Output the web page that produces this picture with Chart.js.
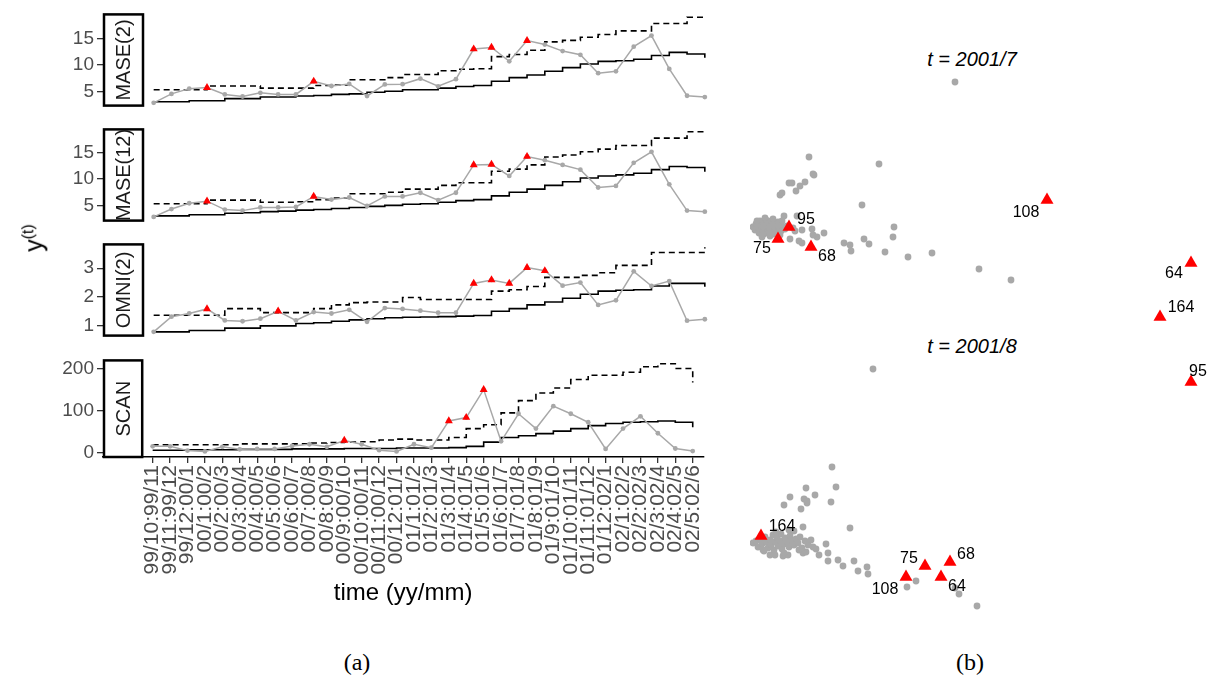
<!DOCTYPE html>
<html>
<head>
<meta charset="utf-8">
<script src="https://cdn.jsdelivr.net/npm/chart.js@4.4.1/dist/chart.umd.min.js"></script>
<style>
  body { margin:0; background:#fff; width:1221px; height:683px; position:relative; overflow:hidden;
         font-family:"Liberation Sans", Arial, sans-serif; }
  .box { position:absolute; }
  #ylab { position:absolute; left:34px; top:238px; transform:translate(-50%,-50%) rotate(-90deg);
          font-size:25px; white-space:nowrap; color:#000; }
  #ylab sup { font-size:16px; }
  .cap { position:absolute; top:662px; transform:translate(-50%,-50%);
         font-family:"Liberation Serif","DejaVu Serif",serif; font-size:24px; }
  .ttl { position:absolute; transform:translate(-50%,-50%); font-style:italic; font-size:20px; white-space:nowrap; }
</style>
</head>
<body>
<div class="box" style="left:0;top:0;width:720px;height:120px"><canvas id="p1"></canvas></div>
<div class="box" style="left:0;top:115px;width:720px;height:120px"><canvas id="p2"></canvas></div>
<div class="box" style="left:0;top:230px;width:720px;height:120px"><canvas id="p3"></canvas></div>
<div class="box" style="left:0;top:346px;width:720px;height:266px"><canvas id="p4"></canvas></div>
<div id="ylab">y<sup>(t)</sup></div>

<div class="ttl" style="left:972px;top:59px">t = 2001/7</div>
<div class="ttl" style="left:972px;top:346px">t = 2001/8</div>
<div class="box" style="left:750px;top:70px;width:470px;height:260px"><canvas id="s1"></canvas></div>
<div class="box" style="left:750px;top:355px;width:470px;height:265px"><canvas id="s2"></canvas></div>

<div class="cap" style="left:357px">(a)</div>
<div class="cap" style="left:970px">(b)</div>

<script>
// ---- data: panel (a) ----
const timeLabels = ['99/10:99/11','99/11:99/12','99/12:00/1','00/1:00/2','00/2:00/3','00/3:00/4',
  '00/4:00/5','00/5:00/6','00/6:00/7','00/7:00/8','00/8:00/9','00/9:00/10','00/10:00/11',
  '00/11:00/12','00/12:01/1','01/1:01/2','01/2:01/3','01/3:01/4','01/4:01/5','01/5:01/6',
  '01/6:01/7','01/7:01/8','01/8:01/9','01/9:01/10','01/10:01/11','01/11:01/12','01/12:02/1',
  '02/1:02/2','02/2:02/3','02/3:02/4','02/4:02/5','02/5:02/6'];

const mase2Obs   = [2.8,4.5,5.5,5.7,4.4,4.0,4.7,4.4,4.4,6.9,6.0,6.4,4.1,6.3,6.35,7.4,5.95,7.3,13.05,13.35,10.7,14.65,13.9,12.65,11.95,8.45,8.8,13.5,15.6,9.25,4.15,3.9];
const mase2Base  = [3.0,3.0,3.2,3.2,3.6,3.6,3.9,3.9,4.1,4.2,4.4,4.5,4.8,5.0,5.3,5.3,5.6,5.9,6.1,6.9,7.6,8.1,8.8,9.5,10.2,10.7,10.8,11.1,11.8,12.4,12.1,11.4];
const mase2Upper = [5.3,5.3,5.3,6.0,6.0,6.0,5.6,5.6,5.6,6.1,6.2,7.2,7.2,7.6,8.2,8.2,8.9,9.2,9.3,11.6,12.0,12.8,14.4,14.7,15.3,15.8,16.5,16.5,17.9,17.9,19.1,19.1];
const mase2Alarm = [3,9,18,19,21];

const mase12Obs   = [2.8,4.3,5.4,5.8,4.2,4.0,4.6,4.6,4.7,6.7,6.1,6.5,4.9,6.7,6.7,7.4,6.0,7.4,12.7,12.8,10.6,14.3,13.6,12.7,11.8,8.4,8.7,13.1,15.2,9.0,4.0,3.8];
const mase12Base  = [3.0,3.0,3.2,3.2,3.5,3.6,3.8,3.9,4.1,4.2,4.4,4.6,4.8,5.0,5.2,5.3,5.6,5.9,6.1,6.8,7.5,8.1,8.8,9.5,10.2,10.6,10.8,11.1,11.8,12.4,12.2,11.4];
const mase12Upper = [5.3,5.3,5.3,6.0,6.0,6.0,5.6,5.6,5.7,6.1,6.4,7.2,7.2,7.5,8.1,8.1,8.8,9.3,9.3,11.5,11.9,12.7,14.2,14.6,15.2,15.7,16.4,16.4,17.8,17.8,19.0,19.1];
const mase12Alarm = [3,9,18,19,21];

const omniObs   = [0.78,1.31,1.42,1.58,1.18,1.15,1.24,1.50,1.18,1.47,1.42,1.55,1.13,1.61,1.58,1.52,1.45,1.45,2.47,2.59,2.47,3.02,2.91,2.39,2.50,1.72,1.88,2.89,2.38,2.55,1.17,1.22];
const omniBase  = [0.78,0.78,0.83,0.83,0.91,0.91,0.99,0.99,1.07,1.10,1.15,1.20,1.24,1.27,1.29,1.30,1.31,1.33,1.35,1.50,1.59,1.72,1.82,1.95,2.09,2.20,2.23,2.25,2.38,2.47,2.47,2.35];
const omniUpper = [1.36,1.36,1.36,1.36,1.59,1.59,1.45,1.45,1.45,1.59,1.72,1.80,1.82,1.82,1.98,1.91,1.91,1.91,1.91,2.20,2.25,2.36,2.68,2.68,2.75,2.84,3.10,3.10,3.55,3.55,3.55,3.73];
const omniAlarm = [3,7,18,19,20,21,22];

const scanObs   = [16,16,6,4,15,9,10,10,17,21,15,30,21,7,4,21,13,76,84,150,28,93,58,111,93,73,10,58,87,47,11,5];
const scanBase  = [7,7,8,8,8,9,9,9,10,10,10,11,11,11,12,12,12,13,16,26,37,41,46,52,58,65,70,73,74,76,73,61];
const scanUpper = [20,20,20,20,20,22,22,22,22,24,25,26,27,31,33,31,31,37,58,67,95,124,142,154,174,184,184,191,204,211,200,167];
const scanAlarm = [11,17,18,19];

// ---- data: panel (b), embedding coordinates ----
const t7GreyX = [20.5,5.9,12.9,6.3,6.4,3.9,4.2,5.5,5.0,4.6,3.0,3.2,11.2,3.4,4.7,14.4,14.3,7.4,6.2,6.7,6.3,4.0,4.9,5.2,11.4,11.9,9.4,10.0,10.1,13.5,15.8,18.2,22.9,26.1,
  0.3,0.5,0.6,0.8,0.9,1.0,1.1,1.2,1.3,1.4,1.5,1.6,1.7,1.8,1.9,2.0,2.1,2.2,2.3,2.4,2.5,2.6,2.7,2.8,2.9,3.0,3.1,3.3,3.5,3.7,
  1.2,2.0,0.7,1.5,2.3,3.2,3.0,4.3,4.5,5.2,1.9,2.4,1.3,2.8];
const t7GreyY = [24.8,17.3,16.6,15.6,15.5,14.7,14.7,14.8,14.4,13.9,13.5,13.7,12.5,11.4,11.4,10.3,9.3,9.7,10.1,9.3,9.5,9.1,8.9,8.7,9.1,8.6,8.7,8.5,7.9,7.8,7.3,7.7,6.1,5.0,
  10.3,10.0,10.6,10.2,9.7,10.9,10.4,10.0,10.7,9.6,10.3,11.0,10.1,10.6,9.8,10.4,10.9,10.2,9.6,10.6,10.0,10.4,9.8,10.8,10.2,10.5,9.9,10.3,10.1,10.4,
  9.3,9.4,10.9,11.2,11.1,10.9,9.5,10.2,9.9,10.0,10.2,10.3,10.3,10.4];
const t7RedLabel = ['108','95','75','68','64','164'];
const t7RedX = [29.7,3.9,2.8,6.1,44.1,41.0];
const t7RedY = [13.0,10.3,9.1,8.3,6.7,1.3];

const t8GreyX = [12.3,8.2,8.6,5.6,6.5,4.0,3.4,5.4,5.7,5.7,8.1,5.1,10.0,5.3,7.6,7.8,6.9,7.8,8.8,10.4,9.3,11.7,10.8,11.8,15.7,16.6,20.5,20.9,22.7,3.3,3.8,5.3,5.6,2.0,
  0.3,0.6,0.8,1.0,1.2,1.3,1.5,1.6,1.8,2.0,2.1,2.3,2.4,2.5,2.7,2.8,3.0,3.1,3.2,3.4,3.5,3.7,3.9,4.0,4.2,4.4,4.6,4.8,5.0,5.2,5.5,5.8,6.1,6.3,
  4.4,2.6,3.4,2.5,1.4,4.9,6.6,3.9];
const t8GreyY = [25.1,15.3,13.3,13.2,12.5,12.3,11.5,12.1,11.7,11.9,11.8,11.1,9.2,9.3,7.6,6.7,6.5,5.9,6.0,5.9,5.4,5.3,4.9,4.6,3.3,3.9,3.2,2.6,1.4,6.4,6.5,6.7,6.8,6.5,
  7.7,7.9,7.3,8.1,7.6,7.0,8.3,7.8,7.2,8.0,7.5,8.5,7.0,7.8,8.2,7.4,7.9,8.6,7.1,7.6,8.2,7.8,7.3,8.4,7.9,7.5,8.1,7.7,8.3,7.2,7.9,7.5,8.0,7.3,
  8.9,8.8,6.7,6.5,6.9,7.0,7.1,9.0];
const t8RedLabel = ['95','164','75','68','108','64'];
const t8RedX = [44.1,1.1,17.5,20.0,15.6,19.1];
const t8RedY = [23.8,8.4,5.4,5.8,4.3,4.3];

// ---- styling ----
const FONT = '"Liberation Sans", Arial, sans-serif';
const GREY = '#a8a8a8';
const X_MIN = -2.85, X_MAX = 31.6;   // leaves room for the strip box on the left

const panels = [
  { id:'p1', name:'MASE(2)',  obs:mase2Obs,  base:mase2Base,  upper:mase2Upper,  alarm:mase2Alarm,  yTicks:[5,10,15], yMin:2.27, yMax:19.64 },
  { id:'p2', name:'MASE(12)', obs:mase12Obs, base:mase12Base, upper:mase12Upper, alarm:mase12Alarm, yTicks:[5,10,15], yMin:2.1,  yMax:19.46 },
  { id:'p3', name:'OMNI(2)',  obs:omniObs,   base:omniBase,   upper:omniUpper,   alarm:omniAlarm,   yTicks:[1,2,3],   yMin:0.65, yMax:3.83 },
  { id:'p4', name:'SCAN',     obs:scanObs,   base:scanBase,   upper:scanUpper,   alarm:scanAlarm,   yTicks:[0,50,100,150,200], yMin:-9.1, yMax:219 }
];

// strip box drawn between the y axis and the data
const stripPlugin = {
  id: 'strip',
  afterDraw(chart, args, opts) {
    const { ctx, chartArea } = chart;
    const x0 = chartArea.left + 1, x1 = chart.scales.x.getPixelForValue(-0.6);
    const y0 = chartArea.top, y1 = chartArea.bottom;
    ctx.save();
    ctx.fillStyle = '#fff';
    ctx.fillRect(x0, y0, x1 - x0, y1 - y0);
    ctx.lineWidth = 2.5;
    ctx.strokeStyle = '#000';
    ctx.strokeRect(x0, y0, x1 - x0, y1 - y0);
    ctx.translate((x0 + x1) / 2, (y0 + y1) / 2);
    ctx.rotate(-Math.PI / 2);
    ctx.fillStyle = '#1a1a1a';
    ctx.font = '20px ' + FONT;
    ctx.textAlign = 'center';
    ctx.textBaseline = 'middle';
    ctx.fillText(opts.text, 0, 1);
    ctx.restore();
  }
};

function makePanel(p, isLast) {
  const pts = arr => arr.map((v, i) => ({ x: i, y: v }));
  new Chart(document.getElementById(p.id), {
    type: 'line',
    data: {
      datasets: [
        { data: p.alarm.map(i => ({ x: i, y: p.obs[i] })), showLine: false,
          pointStyle: 'triangle', pointRadius: 4.6, backgroundColor: '#ff0000', borderWidth: 0, order: 0 },
        { data: pts(p.obs), borderColor: GREY, borderWidth: 1.5, pointRadius: 2.4,
          pointBackgroundColor: GREY, pointBorderWidth: 0, order: 1 },
        { data: pts(p.base), stepped: true, borderColor: '#000', borderWidth: 1.6, pointRadius: 0, order: 2 },
        { data: pts(p.upper), stepped: true, borderColor: '#000', borderWidth: 1.6, borderDash: [6, 4],
          pointRadius: 0, order: 3 }
      ]
    },
    options: {
      animation: false, responsive: true, maintainAspectRatio: false,
      layout: { autoPadding: false, padding: { top: 10, bottom: isLast ? 0 : 10, left: 0, right: 4.5 } },
      plugins: { legend: { display: false }, tooltip: { enabled: false }, strip: { text: p.name } },
      scales: {
        x: {
          type: 'linear', min: X_MIN, max: X_MAX, display: isLast,
          afterBuildTicks: s => { s.ticks = timeLabels.map((_, i) => ({ value: i })); },
          afterFit: s => { if (isLast) s.height = 155; },
          ticks: { autoSkip: false, minRotation: 90, maxRotation: 90, padding: 2,
                   color: '#4d4d4d', font: { size: 21, family: FONT },
                   callback: v => timeLabels[v] },
          grid: { drawOnChartArea: false, tickLength: 6, color: '#333', lineWidth: 1.3 },
          border: { display: true, color: '#000', width: 1.6 },
          title: { display: true, text: 'time (yy/mm)', color: '#000',
                   font: { size: 24, family: FONT }, padding: { top: 2, bottom: 4 } }
        },
        y: {
          min: p.yMin, max: p.yMax,
          afterFit: s => { s.width = 103; },
          afterBuildTicks: s => { s.ticks = p.yTicks.map(v => ({ value: v })); },
          ticks: { color: '#4d4d4d', font: { size: 19, family: FONT }, padding: 3 },
          grid: { drawOnChartArea: false, tickLength: 6, color: '#333', lineWidth: 1.3 },
          border: { display: false }
        }
      }
    },
    plugins: [stripPlugin]
  });
}
panels.forEach((p, k) => makePanel(p, k === panels.length - 1));

// labels next to the red triangles
const labelPlugin = {
  id: 'redLabels',
  afterDatasetsDraw(chart, args, opts) {
    const { ctx } = chart;
    const meta = chart.getDatasetMeta(1);
    ctx.save();
    ctx.font = '16px ' + FONT;
    ctx.fillStyle = '#000';
    ctx.textAlign = 'center';
    ctx.textBaseline = 'middle';
    meta.data.forEach((el, i) => {
      const o = opts.offsets[i];
      ctx.fillText(opts.labels[i], el.x + o[0], el.y + o[1]);
    });
    ctx.restore();
  }
};

function makeScatter(id, gx, gy, rx, ry, names, offsets, yMax) {
  new Chart(document.getElementById(id), {
    type: 'scatter',
    data: {
      datasets: [
        { data: gx.map((x, i) => ({ x, y: gy[i] })), pointRadius: 3.4, backgroundColor: GREY,
          borderWidth: 0, clip: false, order: 1 },
        { data: rx.map((x, i) => ({ x, y: ry[i] })), pointStyle: 'triangle', pointRadius: 7.5,
          backgroundColor: '#ff0000', borderWidth: 0, clip: false, order: 0 }
      ]
    },
    options: {
      animation: false, responsive: true, maintainAspectRatio: false,
      layout: { autoPadding: false, padding: 0 },
      plugins: { legend: { display: false }, tooltip: { enabled: false },
                 redLabels: { labels: names, offsets: offsets } },
      scales: {
        x: { display: false, min: 0, max: 47 },
        y: { display: false, min: 0, max: yMax }
      }
    },
    plugins: [labelPlugin]
  });
}

makeScatter('s1', t7GreyX, t7GreyY, t7RedX, t7RedY, t7RedLabel,
  [[-21, 13], [17, -7], [-16, 10], [16, 10], [-17, 11], [21, -9]], 26);
makeScatter('s2', t8GreyX, t8GreyY, t8RedX, t8RedY, t8RedLabel,
  [[7, -10], [21, -9], [-16, -7], [16, -7], [-21, 13], [16, 10]], 26.5);
</script>
</body>
</html>
